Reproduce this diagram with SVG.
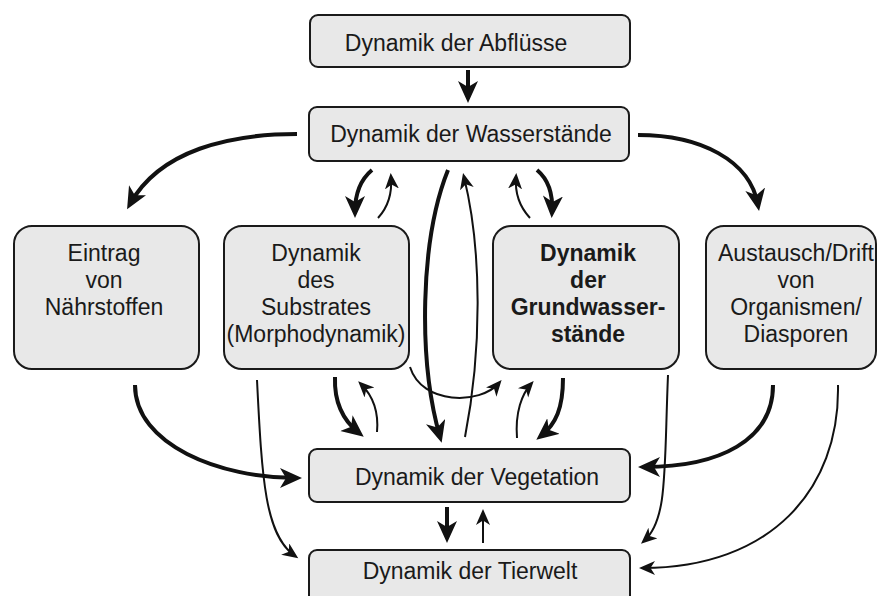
<svg xmlns="http://www.w3.org/2000/svg" width="879" height="596" viewBox="0 0 879 596">
<style>
.box{fill:#e8e8e8;stroke:#1a1a1a;stroke-width:2}
text{font-family:"Liberation Sans",Arial,sans-serif;font-size:23px;fill:#1a1a1a;text-anchor:middle}
.b{font-weight:bold}
.thick{fill:none;stroke:#111;stroke-width:4;marker-end:url(#hThick)}
.thin{fill:none;stroke:#111;stroke-width:2;marker-end:url(#hThin)}
</style>
<defs>
<marker id="hThick" markerUnits="userSpaceOnUse" markerWidth="24" markerHeight="22" refX="16" refY="10" orient="auto">
<path d="M0,0 L22,10 L0,20 L6,10 z" fill="#111"/>
</marker>
<marker id="hThin" markerUnits="userSpaceOnUse" markerWidth="18" markerHeight="16" refX="12" refY="7" orient="auto">
<path d="M0,0 L16,7 L0,14 L4.5,7 z" fill="#111"/>
</marker>
</defs>

<g id="connectors">
<path class="thick" d="M468,70 L468,97"/>
<path class="thick" d="M297,134 C230,134 160,150 130,204"/>
<path class="thick" d="M638,135 C700,135 750,160 758,205"/>
<path class="thick" d="M372,170 C360,180 355,195 355,212"/>
<path class="thin" d="M378,218 C390,205 392,190 391,177"/>
<path class="thin" d="M530,218 C518,205 515,190 516,177"/>
<path class="thick" d="M537,170 C549,180 553,195 552,212"/>
<path class="thick" d="M448,170 C420,240 418,360 440,437"/>
<path class="thin" d="M465,437 C482,350 482,250 464,177"/>
<path class="thin" d="M410,367 C422,405 480,405 499,383"/>
<path class="thick" d="M335,377 C334,405 345,422 359,433"/>
<path class="thin" d="M377,432 C379,410 371,394 361,384"/>
<path class="thin" d="M517,438 C515,412 522,394 531,384"/>
<path class="thick" d="M563,378 C563,408 556,424 541,436"/>
<path class="thick" d="M135,385 C135,445 220,478 296,478"/>
<path class="thin" d="M257,380 C262,480 265,535 295,556"/>
<path class="thin" d="M668,375 C664,470 668,520 644,541"/>
<path class="thick" d="M773,385 C773,440 720,467 644,467"/>
<path class="thin" d="M838,385 C840,490 770,568 643,568"/>
<path class="thick" d="M447,507 L447,537"/>
<path class="thin" d="M483,543 L483,513"/>
</g>

<g id="abfluesse">
<rect class="box" x="310" y="15" width="320" height="52" rx="8"/>
<text x="456" y="51">Dynamik der Abflüsse</text>
</g>
<g id="wasserstaende">
<rect class="box" x="309" y="107" width="320" height="54" rx="8"/>
<text x="471" y="142">Dynamik der Wasserstände</text>
</g>
<g id="eintrag">
<rect class="box" x="14" y="226" width="185" height="143" rx="18"/>
<text x="104" y="261">Eintrag</text>
<text x="104" y="288">von</text>
<text x="104" y="315">Nährstoffen</text>
</g>
<g id="substrat">
<rect class="box" x="224" y="226" width="185" height="143" rx="18"/>
<text x="316" y="261">Dynamik</text>
<text x="316" y="288">des</text>
<text x="316" y="315">Substrates</text>
<text x="316" y="342">(Morphodynamik)</text>
</g>
<g id="grundwasser">
<rect class="box" x="493" y="226" width="186" height="143" rx="18"/>
<text class="b" x="588" y="261">Dynamik</text>
<text class="b" x="588" y="288">der</text>
<text class="b" x="588" y="315">Grundwasser-</text>
<text class="b" x="588" y="342">stände</text>
</g>
<g id="austausch">
<rect class="box" x="706" y="226" width="170" height="143" rx="18"/>
<text x="796" y="261">Austausch/Drift</text>
<text x="796" y="288">von</text>
<text x="796" y="315">Organismen/</text>
<text x="796" y="342">Diasporen</text>
</g>
<g id="vegetation">
<rect class="box" x="309" y="449" width="321" height="53" rx="8"/>
<text x="477" y="485">Dynamik der Vegetation</text>
</g>
<g id="tierwelt">
<rect class="box" x="309" y="550" width="321" height="60" rx="8"/>
<text x="470" y="579">Dynamik der Tierwelt</text>
</g>
</svg>
